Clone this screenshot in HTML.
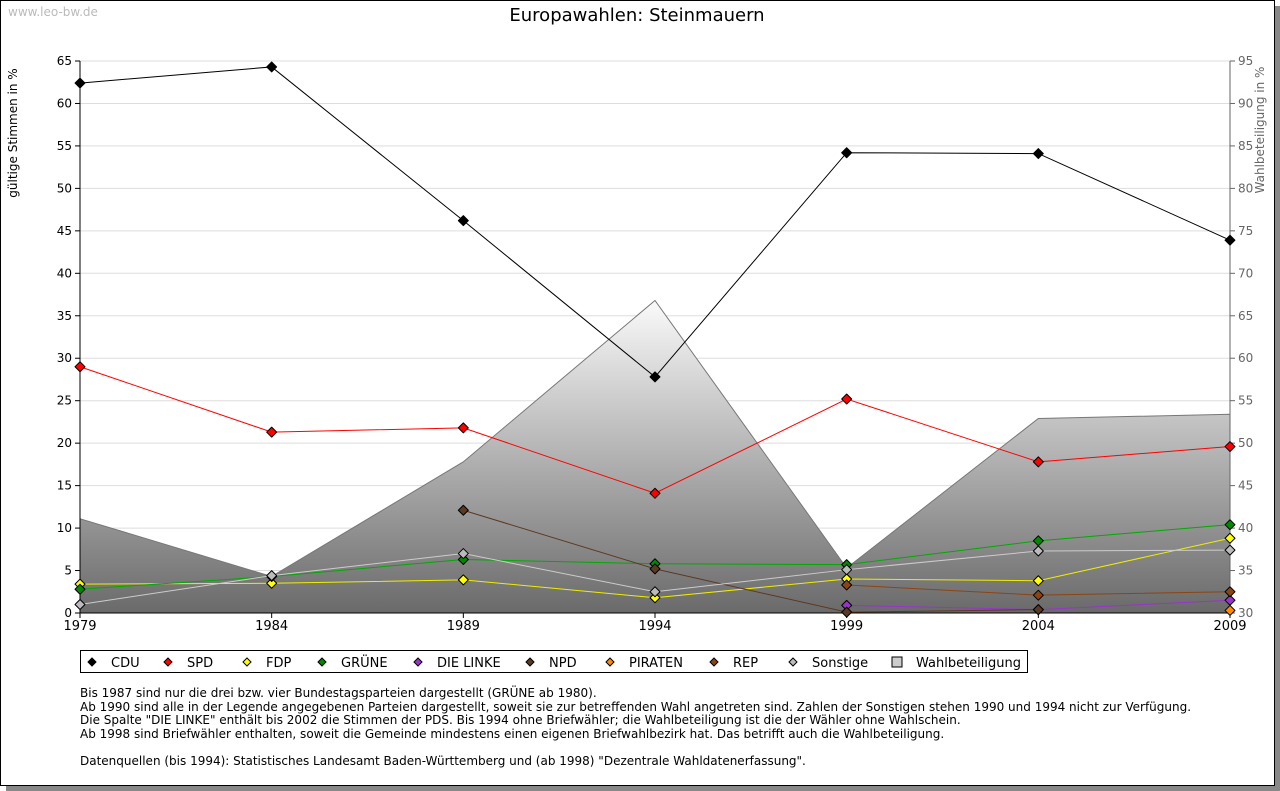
<!DOCTYPE html>
<html><head><meta charset="utf-8"><style>
body{margin:0;background:#fff;font-family:"DejaVu Sans","Liberation Sans",sans-serif}
#frame{position:absolute;left:0;top:0;width:1273px;height:784px;border:1px solid #000;background:#fff;box-shadow:6px 6px 0 #888}
svg{position:absolute;left:0;top:0;font-family:"DejaVu Sans","Liberation Sans",sans-serif}
.notes{position:absolute;left:80px;top:687px;font-size:12px;line-height:13.5px;color:#000}
</style></head><body>
<div id="frame"></div>
<svg id="c" width="1280" height="791"></svg>
<div class="notes">Bis 1987 sind nur die drei bzw. vier Bundestagsparteien dargestellt (GRÜNE ab 1980).<br>Ab 1990 sind alle in der Legende angegebenen Parteien dargestellt, soweit sie zur betreffenden Wahl angetreten sind. Zahlen der Sonstigen stehen 1990 und 1994 nicht zur Verfügung.<br>Die Spalte "DIE LINKE" enthält bis 2002 die Stimmen der PDS. Bis 1994 ohne Briefwähler; die Wahlbeteiligung ist die der Wähler ohne Wahlschein.<br>Ab 1998 sind Briefwähler enthalten, soweit die Gemeinde mindestens einen eigenen Briefwahlbezirk hat. Das betrifft auch die Wahlbeteiligung.<br><br>Datenquellen (bis 1994): Statistisches Landesamt Baden-Württemberg und (ab 1998) "Dezentrale Wahldatenerfassung".</div>
<script>
const years=[1979,1984,1989,1994,1999,2004,2009];
const cdu=[62.4,64.3,46.2,27.8,54.2,54.1,43.9];
const spd=[29.0,21.3,21.8,14.1,25.2,17.8,19.6];
const fdp=[3.4,3.5,3.9,1.8,4.0,3.8,8.8];
const gruene=[2.8,4.3,6.3,5.8,5.7,8.5,10.4];
const linke=[null,null,null,null,0.9,0.4,1.5];
const npd=[null,null,12.1,5.2,0.1,0.4,null];
const piraten=[null,null,null,null,null,null,0.3];
const rep=[null,null,null,null,3.3,2.1,2.5];
const sonstige=[1.0,4.4,7.0,2.5,5.1,7.3,7.4];
const turnout=[41.1,34.3,47.8,66.8,35.3,52.9,53.4];
const leftTicks=[0,5,10,15,20,25,30,35,40,45,50,55,60,65];
const rightTicks=[30,35,40,45,50,55,60,65,70,75,80,85,90,95];

const X0=80,X1=1230,Y0=613,Y1=61;
const xs=i=>X0+(X1-X0)*(years[i]-years[0])/(years[years.length-1]-years[0]);
const yl=v=>Y0-(Y0-Y1)*v/65;
const yr=v=>Y0-(Y0-Y1)*(v-30)/65;
const svg=document.getElementById('c');
const NS='http://www.w3.org/2000/svg';
function el(t,a,p){const e=document.createElementNS(NS,t);for(const k in a)e.setAttribute(k,a[k]);(p||svg).appendChild(e);return e;}
let defs=el('defs',{});
let g=el('linearGradient',{id:'tg',x1:0,y1:0,x2:0,y2:1,gradientUnits:'userSpaceOnUse'},defs);
g.setAttribute('y1',yr(turnout[3]));g.setAttribute('y2',Y0);
el('stop',{offset:0,'stop-color':'#fafafa'},g);el('stop',{offset:1,'stop-color':'#6a6a6a'},g);

let t=el('text',{x:637,y:21,'text-anchor':'middle','font-size':18});t.textContent='Europawahlen: Steinmauern';

t=el('text',{x:8,y:16,'font-size':12,fill:'#bbb'});t.textContent='www.leo-bw.de';


leftTicks.forEach(v=>{const y=yl(v);
 if(v>0){const l=el('line',{x1:X0,x2:X1,y1:y,y2:y,stroke:'#ddd'});}
 el('line',{x1:X0-5,x2:X0,y1:y,y2:y,stroke:'#000'});
 const tx=el('text',{x:X0-8,y:y+4,'text-anchor':'end','font-size':12});tx.textContent=v;
 });
rightTicks.forEach(v=>{const y=yr(v);
 el('line',{x1:X1,x2:X1+5,y1:y,y2:y,stroke:'#666'});
 const tx=el('text',{x:X1+8,y:y+4,'font-size':12,fill:'#666'});tx.textContent=v;
 });

let d='M'+xs(0)+','+Y0;turnout.forEach((v,i)=>d+=' L'+xs(i)+','+yr(v));d+=' L'+xs(6)+','+Y0+'Z';
let a=el('path',{d:d,fill:'url(#tg)',stroke:'#777'});


el('line',{x1:X0,x2:X0,y1:Y1,y2:Y0,stroke:'#000'});
el('line',{x1:X1,x2:X1,y1:Y1,y2:Y0,stroke:'#666'});
el('line',{x1:X0,x2:X1,y1:Y0,y2:Y0,stroke:'#000'});
years.forEach((yv,i)=>{el('line',{x1:xs(i),x2:xs(i),y1:Y0,y2:Y0+5,stroke:'#000'});
 const tx=el('text',{x:xs(i),y:Y0+17,'text-anchor':'middle','font-size':13});tx.textContent=yv;
 });
t=el('text',{x:17,y:133,'text-anchor':'middle','font-size':12,transform:'rotate(-90 17 133)'});t.textContent='gültige Stimmen in %';

t=el('text',{x:1264,y:130,'text-anchor':'middle','font-size':12,fill:'#666',transform:'rotate(-90 1264 130)'});t.textContent='Wahlbeteiligung in %';


const series=[['CDU',cdu,'#000'],['SPD',spd,'#f00'],['FDP',fdp,'#ff0'],['GRÜNE',gruene,'#080'],['DIE LINKE',linke,'#93c'],['NPD',npd,'#5a3a22'],['PIRATEN',piraten,'#f80'],['REP',rep,'#8b4513'],['Sonstige',sonstige,'#bbb']];
const lineCol={'FDP':'#ee0','GRÜNE':'#0a0','Sonstige':'#ccc'};
series.forEach(([name,vals,col])=>{
 let p='';vals.forEach((v,i)=>{if(v==null)return;p+=(p?' L':'M')+xs(i)+','+yl(v);});
 const ln=el('path',{d:p,fill:'none',stroke:lineCol[name]||col,'stroke-width':1});
 
 
 vals.forEach((v,i)=>{if(v==null)return;const x=xs(i),y=yl(v);
  const m=el('path',{d:`M${x},${y-5} L${x+5},${y} L${x},${y+5} L${x-5},${y}Z`,fill:col,stroke:'#000','stroke-width':1,'stroke-linejoin':'round'});
  
  });
});

el('rect',{x:80.5,y:650.5,width:947,height:22,fill:'#fff',stroke:'#000'});
const lx=[92,168,247,322,418,530,610,714,793,897];
const names=series.map(s=>s[0]).concat(['Wahlbeteiligung']);
names.forEach((n,i)=>{const x=lx[i],y=662;
 if(i<9){el('path',{d:`M${x},${y-4} L${x+4},${y} L${x},${y+4} L${x-4},${y}Z`,fill:series[i][2],stroke:'#000'});}
 else{el('rect',{x:x-5,y:y-5,width:10,height:10,fill:'#ccc',stroke:'#000'});}
 const tx=el('text',{x:x+19,y:y+5,'font-size':13});tx.textContent=n;
 });
</script>
</body></html>
